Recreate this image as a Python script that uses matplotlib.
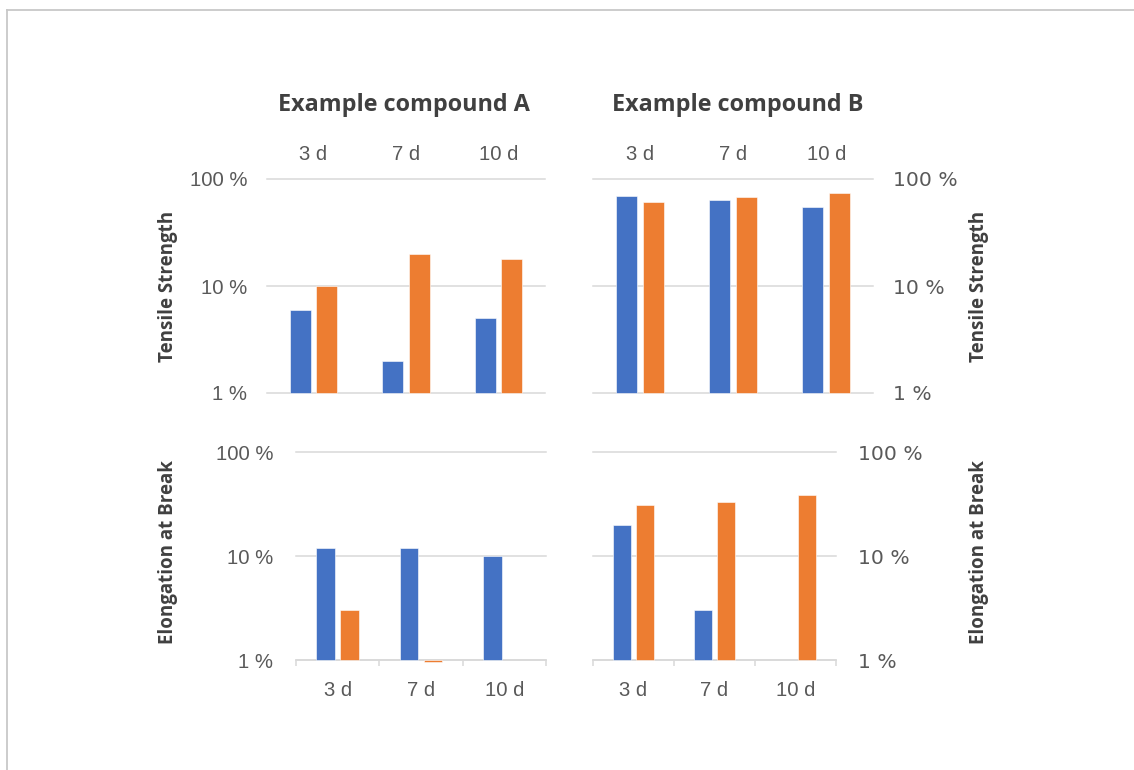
import numpy as np
import matplotlib
matplotlib.use("Agg")
import matplotlib.pyplot as plt
from matplotlib.lines import Line2D

# ---- data -------------------------------------------------------------
days = ["3 d", "7 d", "10 d"]
y_ticks = [1, 10, 100]
y_tick_labels = ["1 %", "10 %", "100 %"]

# Tensile strength (%)
tensile_a_s1 = [6, 2, 5]
tensile_a_s2 = [10, 20, 18]
tensile_b_s1 = [70, 64, 55]
tensile_b_s2 = [61, 68, 74]

# Elongation at break (%), nan = no value
elong_a_s1 = [12, 12, 10]
elong_a_s2 = [3, 0.965, np.nan]
elong_b_s1 = [20, 3, np.nan]
elong_b_s2 = [31, 33, 39]

titles = ["Example compound A", "Example compound B"]
row_labels = ["Tensile Strength", "Elongation at Break"]

# ---- styling ----------------------------------------------------------
BLUE = "#4472C4"
ORANGE = "#ED7D31"
GRID = "#D9D9D9"
TXT = "#595959"
DARK = "#404040"
TICK_FONT = "Liberation Sans"
BOLD_FONT = "Open Sans"

W, H = 1134, 770
DPI = 100
fig = plt.figure(figsize=(W / DPI, H / DPI), dpi=DPI)
fig.patch.set_facecolor("white")


def px_axes(x0, y0, x1, y1):
    return fig.add_axes([x0 / W, 1 - y1 / H, (x1 - x0) / W, (y1 - y0) / H])


def draw_panel(ax, s1, s2, right=False, top_labels=True, ypad=14.4):
    n = len(days)
    centers = np.arange(n) + 0.5
    off, width = 0.143, 0.225
    for vals, sign, color in ((s1, -1, BLUE), (s2, 1, ORANGE)):
        for c, v in zip(centers, vals):
            if np.isnan(v):
                continue
            ax.bar(c + sign * off, v - 1, bottom=1, width=width, color=color,
                   edgecolor="white", linewidth=0.4, zorder=3, clip_on=False)
    ax.set_yscale("log")
    ax.set_ylim(1, 100)
    ax.set_xlim(0, n)
    ax.set_yticks(y_ticks, y_tick_labels)
    ax.yaxis.set_minor_locator(matplotlib.ticker.NullLocator())
    ax.tick_params(axis="y", length=0, pad=ypad, labelsize=14.6,
                   labelcolor=TXT)
    for lbl in ax.get_yticklabels():
        lbl.set_fontfamily(TICK_FONT)
    if right:
        ax.yaxis.tick_right()
    ax.set_axisbelow(True)
    ax.grid(axis="y", color=GRID, linewidth=1.1)
    for gl in ax.get_ygridlines():
        gl.set_clip_on(False)
    for sp in ax.spines.values():
        sp.set_visible(False)
    ax.patch.set_alpha(0)

    if top_labels:
        ax.xaxis.tick_top()
        ax.set_xticks(centers, days)
        ax.tick_params(axis="x", length=0, pad=10.8, labelsize=14.6,
                       labelcolor=TXT)
    else:
        ax.spines["bottom"].set_visible(True)
        ax.spines["bottom"].set_color(GRID)
        ax.spines["bottom"].set_linewidth(1.1)
        ax.set_xticks(np.arange(n + 1))
        ax.set_xticklabels([])
        ax.tick_params(axis="x", which="major", length=4, width=1.1,
                       color=GRID, direction="out")
        ax.set_xticks(centers, days, minor=True)
        ax.tick_params(axis="x", which="minor", length=0, pad=15,
                       labelsize=14.6, labelcolor=TXT)
    for lbl in ax.get_xticklabels(minor=not top_labels):
        lbl.set_fontfamily(TICK_FONT)


ax_ta = px_axes(267, 179, 545, 393)
ax_tb = px_axes(593, 179, 873, 393)
ax_ea = px_axes(296, 452, 546, 660)
ax_eb = px_axes(593, 452, 836, 660)

draw_panel(ax_ta, tensile_a_s1, tensile_a_s2)
draw_panel(ax_tb, tensile_b_s1, tensile_b_s2, right=True)
draw_panel(ax_ea, elong_a_s1, elong_a_s2, top_labels=False, ypad=16.5)
draw_panel(ax_eb, elong_b_s1, elong_b_s2, right=True, top_labels=False,
           ypad=16)

# column titles
for xc, t in zip((403.5, 737.5), titles):
    fig.text(xc / W, 1 - 105 / H, t, ha="center", va="center",
             fontsize=16.8, fontweight="bold", color=DARK,
             fontfamily=BOLD_FONT)

# row labels on both sides
for (yc, t) in zip((286, 552), row_labels):
    for xc in (168, 979):
        fig.text(xc / W, 1 - yc / H, t, ha="center", va="center",
                 rotation=90, fontsize=13.5, fontweight="bold", color=DARK,
                 fontfamily=BOLD_FONT)

# outer frame (top and left edges visible)
fig.add_artist(Line2D([6.5 / W, 1], [1 - 9.5 / H, 1 - 9.5 / H],
                      transform=fig.transFigure, color="#C8C8C8",
                      linewidth=1.3))
fig.add_artist(Line2D([6.5 / W, 6.5 / W], [0, 1 - 9.5 / H],
                      transform=fig.transFigure, color="#C8C8C8",
                      linewidth=1.3))

fig.savefig("out.png", dpi=DPI)
